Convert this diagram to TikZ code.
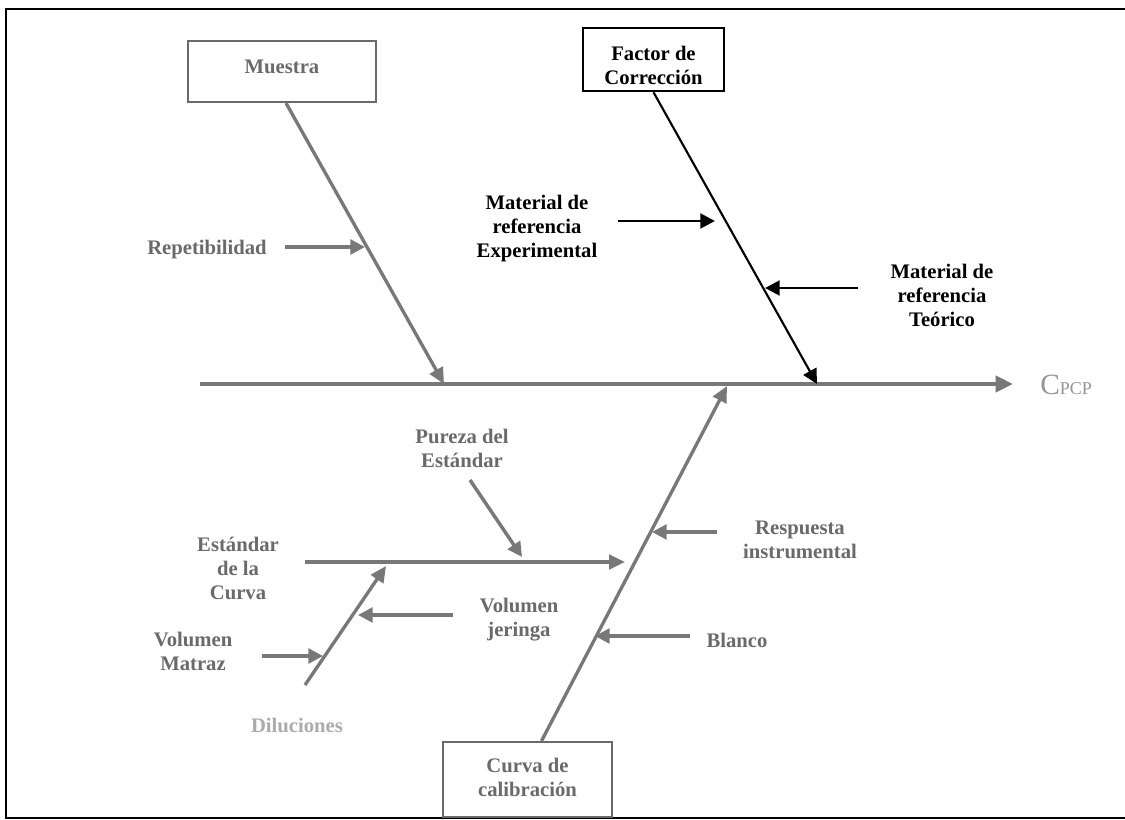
\documentclass[tikz,border=0pt]{standalone}
\usepackage{fontspec}
\setmainfont{Liberation Serif}
\usetikzlibrary{arrows.meta,calc}
\definecolor{bonegray}{HTML}{787878}
\definecolor{textgray}{HTML}{6A6A6A}
\definecolor{palegray}{HTML}{ABABAB}
\definecolor{pcpgray}{HTML}{959595}
\begin{document}
\begin{tikzpicture}[x=0.75pt,y=-0.75pt,
  lbl/.style={font=\fontsize{15.5}{18}\selectfont\bfseries, align=center, inner sep=0pt},
  glbl/.style={lbl, text=textgray},
  blbl/.style={lbl, text=black},
  graybox/.style={draw=textgray, line width=1.6pt, fill=white},
  blackbox/.style={draw=black, line width=1.9pt, fill=white},
  spine/.style={draw=bonegray, line width=2.8pt, -{Triangle[length=13pt,width=12pt]}},
  gbone/.style={draw=bonegray, line width=2.5pt, -{Triangle[length=12pt,width=11pt]}},
  bbone/.style={draw=black, line width=1.6pt, -{Triangle[length=11pt,width=11pt]}},
  gcause/.style={draw=bonegray, line width=2.6pt, -{Triangle[length=11pt,width=11pt]}},
  bcause/.style={draw=black, line width=2.2pt, -{Triangle[length=11pt,width=11pt]}}
]
\useasboundingbox (0,0) rectangle (1125,820);
\fill[white] (0,0) rectangle (1125,820);

% page frame (open to the right)
\draw[line width=2.2pt] (1140,9) -- (6,9) -- (6,818) -- (1140,818);

% category boxes and their titles
\node[graybox, minimum width=141pt, minimum height=45.75pt] (muestra) at (282,71.5) {};
\node[glbl] (muestratxt) at (282,67) {Muestra};
\node[blackbox, minimum width=105.75pt, minimum height=47.25pt] (factor) at (653.5,59.5) {};
\node[blbl] (factortxt) at (653.5,65) {Factor de\\Corrección};
\node[graybox, minimum width=126.75pt, minimum height=56.25pt] (curva) at (527.5,779.5) {};
\node[glbl] (curvatxt) at (527.5,777) {Curva de\\calibración};

% effect
\node[anchor=base west, inner sep=0pt, text=pcpgray] (cpcp) at (1040,394)
  {{\fontsize{22}{24}\selectfont C}{\fontsize{13.5}{15}\selectfont PCP}};

% main spine and bone end points
\coordinate (spinestart) at (200,384);
\coordinate (spineend) at (1013,384);
\coordinate (mtip) at (444,384);
\coordinate (ftip) at (817,384);
\coordinate (ctip) at (727,386);
\draw[spine] (spinestart) -- (spineend);

% main bones
\draw[gbone] ([xshift=3pt]muestra.south) -- (mtip);
\draw[bbone] (factor.south) -- (ftip);
\draw[gbone] ([xshift=10.5pt]curva.north) -- (ctip);

% sub-bones of the calibration curve
\coordinate (est0) at (305,562);
\coordinate (est1) at (625,562);
\coordinate (dil0) at (305,685);
\coordinate (dil1) at (386,566);
\draw[gbone] (est0) -- (est1);
\draw[gbone] (dil0) -- (dil1);

% cause labels
\node[glbl] (rep) at (207,250) {Repetibilidad};
\node[blbl] (mexp) at (537,229) {Material de\\referencia\\Experimental};
\node[blbl] (mteo) at (942,295) {Material de\\referencia\\Teórico};
\node[glbl] (pureza) at (462,448) {Pureza del\\Estándar};
\node[glbl] (estandar) at (238,568) {Estándar\\de la\\Curva};
\node[glbl] (vjer) at (519,620) {Volumen\\jeringa};
\node[glbl] (vmat) at (193,651) {Volumen\\Matraz};
\node[glbl] (resp) at (800,540) {Respuesta\\instrumental};
\node[glbl] (blanco) at (737,640) {Blanco};
\node[lbl, text=palegray] (dil) at (297,725) {Diluciones};

% cause arrows
\coordinate (rep0) at (285,247);
\coordinate (rep1) at (365,247);
\draw[gcause] (rep0) -- (rep1);

\coordinate (exp0) at (618,221);
\coordinate (exp1) at (715,221);
\draw[bcause] (exp0) -- (exp1);

\coordinate (teo0) at (858,288);
\coordinate (teo1) at (765,288);
\draw[bcause] (teo0) -- (teo1);

\coordinate (pur0) at (470,480);
\coordinate (pur1) at (522,557);
\draw[gcause] (pur0) -- (pur1);

\coordinate (jer0) at (453,615);
\coordinate (jer1) at (358,615);
\draw[gcause] (jer0) -- (jer1);

\coordinate (mat0) at (262,656);
\coordinate (mat1) at (323,656);
\draw[gcause] (mat0) -- (mat1);

\coordinate (res0) at (717,532);
\coordinate (res1) at (652,532);
\draw[gcause] (res0) -- (res1);

\coordinate (bla0) at (690,636);
\coordinate (bla1) at (595,636);
\draw[gcause] (bla0) -- (bla1);
\end{tikzpicture}
\end{document}
